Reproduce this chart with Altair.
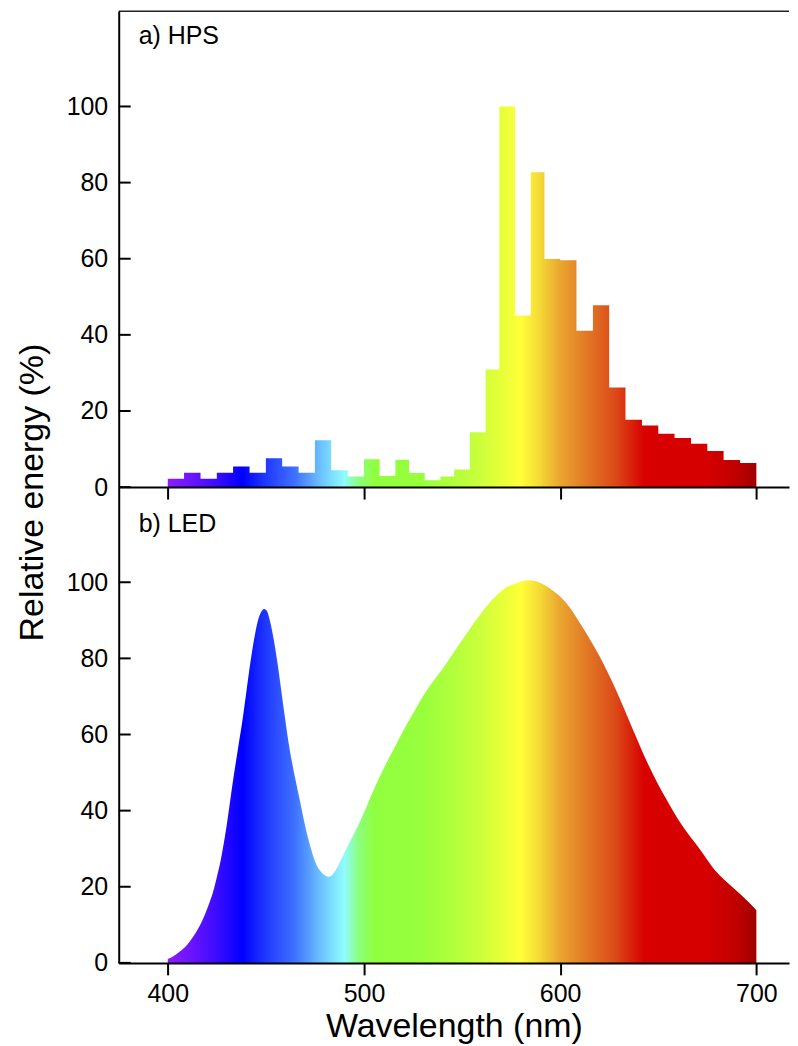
import altair as alt
import pandas as pd

# ---------------- data ----------------
# a) HPS: histogram bin edges (nm) and relative energy (%) per bin
hps_edges = [400, 408.3, 416.7, 425, 433.3, 441.7, 450, 458.3, 466.7, 475, 483.3, 491.7,
             500, 508, 516, 523, 531, 539, 546, 554, 562, 569, 577, 585, 592,
             600, 608.3, 616.7, 625, 633.3, 641.7, 650, 658.3, 666.7, 675, 683.3, 691.7, 700]
hps_values = [2.2, 3.8, 2.2, 3.8, 5.4, 3.8, 7.6, 5.4, 3.8, 12.3, 4.4, 2.8,
              7.3, 2.9, 7.2, 3.7, 1.8, 2.8, 4.6, 14.4, 30.9, 100, 45.1, 82.7, 59.9,
              59.6, 41.1, 47.8, 26.2, 17.7, 16.2, 14.0, 12.9, 11.4, 9.5, 7.1, 6.3]

# b) LED: spectrum samples (nm, relative energy %)
led_nm = [400, 403, 406, 410, 413, 416, 418, 421, 423, 425, 427, 430, 433, 436, 438, 440,
          442, 444, 446, 448, 449, 450.5, 452, 454, 456, 458, 460, 462, 464, 467, 470, 473,
          476, 478, 480, 482, 484, 486, 488, 491, 494, 497, 500, 505, 510, 515, 520, 525,
          530, 535, 540, 547, 555, 564, 572, 578, 584, 590, 595, 603, 611, 620, 628, 637,
          645, 654, 662, 671, 679, 688, 696, 700]
led_values = [1.0, 1.8, 2.9, 4.8, 6.9, 9.5, 11.6, 15.5, 18.5, 22.5, 27, 36, 47, 57, 63.5, 71,
              78.5, 85, 90, 92.5, 93, 92.5, 90, 85, 78.5, 71, 63.5, 56.5, 50.9, 43.5, 36, 30,
              25.5, 24, 23, 22.6, 23.2, 24.7, 26.8, 30, 33, 36, 39.5, 45.5, 51, 56, 61, 65.5,
              70, 73.8, 77.2, 82.5, 88.5, 94.6, 98.5, 99.8, 100.5, 99.8, 98.3, 94.6, 88.5, 80.6,
              72.2, 61.4, 52, 43.1, 36.2, 30, 24.3, 19.8, 16, 13.8]

# spectral colour stops (nm -> colour)
spec_nm = [400, 412, 425, 438, 450, 465, 478, 490, 497, 505, 530, 555, 570, 580, 590,
           600, 615, 628, 643, 675, 690, 700]
spec_colors = ["#8e1cff", "#6a14ff", "#3a0cff", "#0000ff", "#2038ff", "#3f72ff", "#6cc2ff",
               "#8ffcff", "#8cff80", "#90ff40", "#98ff3c", "#c2ff3c", "#e6ff38", "#ffff38",
               "#f4d836", "#eaa530", "#e07424", "#dc4a18", "#d80000", "#d60000", "#c00000",
               "#a00000"]

y_ticks = [0, 20, 40, 60, 80, 100]
x_ticks = [400, 500, 600, 700]
y_top = [125]
panel_labels = ["a) HPS", "b) LED"]

# ---------------- tables ----------------
hps_df = pd.DataFrame({"nm": hps_edges, "energy": hps_values + [hps_values[-1]]})
led_df = pd.DataFrame({"nm": led_nm, "energy": led_values})
yt_df = pd.DataFrame({"energy": y_ticks})
top_df = pd.DataFrame({"energy": y_top})

grad = alt.LinearGradient(
    gradient="linear", x1=0, x2=1, y1=0, y2=0,
    stops=[alt.GradientStop(offset=(n - 400) / 300, color=c) for n, c in zip(spec_nm, spec_colors)],
)

W = 672
H = 477
FONT = "Liberation Sans"

xscale = alt.Scale(domain=[375, 375 + W / 1.967], nice=False, zero=False)
yscale = alt.Scale(domain=[0, 125], nice=False, zero=True)


def x_axis(show_labels):
    kw = dict(values=x_ticks, tickSize=12, tickWidth=2, tickColor="black",
              domainWidth=2, domainColor="black", zindex=1, grid=False)
    if show_labels:
        kw.update(labels=True, labelFontSize=25, labelPadding=7, labelColor="black",
                  labelFont=FONT, title="Wavelength (nm)", titleFontSize=34,
                  titleFontWeight="normal", titleFont=FONT, titleColor="black", titlePadding=3)
    else:
        kw.update(labels=False, title=None)
    return alt.Axis(**kw)


def y_axis(with_title):
    kw = dict(values=y_ticks, ticks=False, labelFontSize=25, labelPadding=11,
              labelColor="black", labelFont=FONT, domainWidth=2, domainColor="black",
              zindex=1, grid=False)
    if with_title:
        kw.update(title="Relative energy (%)", titleFontSize=34, titleFontWeight="normal",
                  titleFont=FONT, titleColor="black", titleX=-76, titleY=H + 5,
                  titleBaseline="alphabetic", titleAngle=270)
    else:
        kw.update(title=None)
    return alt.Axis(**kw)


def tick_rules(with_title):
    return alt.Chart(yt_df).mark_rule(color="black", strokeWidth=2).encode(
        y=alt.Y("energy:Q", scale=yscale, axis=y_axis(with_title)),
        x=alt.value(0), x2=alt.value(12),
    )


def panel_label(text, ypix):
    return alt.Chart(pd.DataFrame({"t": [text]})).mark_text(
        align="left", baseline="alphabetic", fontSize=25, font=FONT, color="black"
    ).encode(text="t:N", x=alt.value(20), y=alt.value(ypix))


hps_area = alt.Chart(hps_df).mark_area(interpolate="step-after", color=grad).encode(
    x=alt.X("nm:Q", scale=xscale, axis=x_axis(False)),
    y=alt.Y("energy:Q", scale=yscale, axis=y_axis(True)),
)
top_line = alt.Chart(top_df).mark_rule(color="#222222", strokeWidth=1.5).encode(
    y=alt.Y("energy:Q", scale=yscale, axis=y_axis(True))
)
top = alt.layer(hps_area, tick_rules(True), top_line, panel_label(panel_labels[0], 33)).properties(
    width=W, height=H
)

led_area = alt.Chart(led_df).mark_area(interpolate="monotone", color=grad).encode(
    x=alt.X("nm:Q", scale=xscale, axis=x_axis(True)),
    y=alt.Y("energy:Q", scale=yscale, axis=y_axis(False)),
)
bottom = alt.layer(led_area, tick_rules(False), panel_label(panel_labels[1], 45)).properties(
    width=W, height=H
)

chart = (
    alt.vconcat(top, bottom, spacing=0, bounds="flush")
    .properties(padding={"left": 8, "top": 1, "right": 0, "bottom": 0}, background="white")
    .configure_view(stroke=None)
)

chart.save("out.html", embed_options={"renderer": "svg", "actions": False})
